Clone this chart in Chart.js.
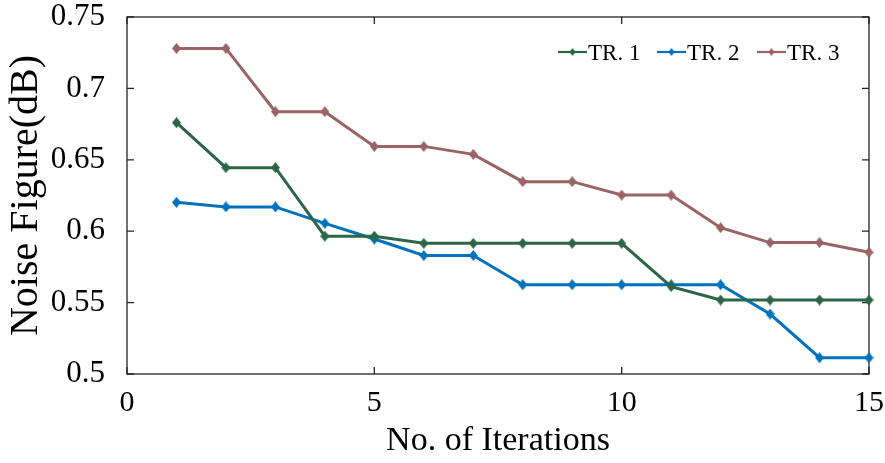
<!DOCTYPE html>
<html><head><meta charset="utf-8">
<script src="https://cdn.jsdelivr.net/npm/chart.js@4.4.0/dist/chart.umd.min.js"></script>
<style>html,body{margin:0;padding:0;background:#fff;}#wrap{width:885px;height:463px;}</style>
</head><body><div id="wrap"><canvas id="c" width="885" height="463"></canvas></div>
<script>
// ---- data ----
const iterations = [1,2,3,4,5,6,7,8,9,10,11,12,13,14,15];
const tr1 = [0.676,0.6445,0.6445,0.5965,0.5965,0.5915,0.5915,0.5915,0.5915,0.5915,0.5612,0.5518,0.5518,0.5518,0.5518];
const tr2 = [0.6202,0.617,0.617,0.6055,0.5945,0.583,0.583,0.5625,0.5625,0.5625,0.5625,0.5625,0.542,0.5114,0.5114];
const tr3 = [0.728,0.728,0.6837,0.6837,0.6594,0.6594,0.6538,0.6347,0.6347,0.6253,0.6253,0.6025,0.592,0.592,0.5852];
const seriesNames = ['TR. 1','TR. 2','TR. 3'];
const seriesColors = ['#2C6646','#0072BD','#9A6464'];
const xTicks = [0,5,10,15];
const yTicks = [0.5,0.55,0.6,0.65,0.7,0.75];
const xTitle = 'No. of Iterations';
const yTitle = 'Noise Figure(dB)';

const FONT = '"Liberation Serif","Times New Roman",Times,serif';

function diamond(color, w, h) {
  const c = document.createElement('canvas');
  c.width = w; c.height = h;
  const g = c.getContext('2d');
  g.fillStyle = color;
  g.beginPath();
  g.moveTo(w/2, 0); g.lineTo(w, h/2); g.lineTo(w/2, h); g.lineTo(0, h/2); g.closePath();
  g.fill();
  return c;
}

const allSeries = [tr1, tr2, tr3];
const datasets = allSeries.map((vals, i) => ({
  label: seriesNames[i],
  data: iterations.map((x, k) => ({x: x, y: vals[k]})),
  borderColor: seriesColors[i],
  backgroundColor: seriesColors[i],
  borderWidth: 3,
  pointStyle: diamond(seriesColors[i], 9, 11),
  pointRadius: 5,
  tension: 0,
  clip: false
}));

const framePlugin = {
  id: 'frame',
  beforeDatasetsDraw(chart) {
    const {ctx, chartArea: a, scales} = chart;
    ctx.save();
    ctx.strokeStyle = '#262626';
    ctx.lineWidth = 1.3;
    ctx.strokeRect(a.left, a.top, a.right - a.left, a.bottom - a.top);
    const tl = 7;
    ctx.beginPath();
    xTicks.forEach(v => {
      const px = scales.x.getPixelForValue(v);
      ctx.moveTo(px, a.bottom); ctx.lineTo(px, a.bottom - tl);
      ctx.moveTo(px, a.top); ctx.lineTo(px, a.top + tl);
    });
    yTicks.forEach(v => {
      const py = scales.y.getPixelForValue(v);
      ctx.moveTo(a.left, py); ctx.lineTo(a.left + tl, py);
      ctx.moveTo(a.right, py); ctx.lineTo(a.right - tl, py);
    });
    ctx.stroke();
    ctx.restore();
  }
};

const legendPlugin = {
  id: 'customLegend',
  afterDraw(chart) {
    const {ctx} = chart;
    const starts = [558, 657, 757];
    const y = 52;
    ctx.save();
    chart.data.datasets.forEach((ds, i) => {
      const x0 = starts[i], x1 = x0 + 29;
      ctx.strokeStyle = ds.borderColor;
      ctx.lineWidth = 2.2;
      ctx.beginPath(); ctx.moveTo(x0, y); ctx.lineTo(x1, y); ctx.stroke();
      ctx.drawImage(diamond(ds.borderColor, 6, 8), (x0 + x1)/2 - 3, y - 4);
      ctx.fillStyle = '#000';
      ctx.font = '23px ' + FONT;
      ctx.textBaseline = 'alphabetic';
      ctx.textAlign = 'left';
      ctx.fillText(ds.label, x1 + 1, 59.5);
    });
    ctx.restore();
  }
};

new Chart(document.getElementById('c'), {
  type: 'line',
  data: { datasets },
  plugins: [framePlugin, legendPlugin],
  options: {
    responsive: false,
    devicePixelRatio: 1,
    animation: false,
    layout: { padding: {left: 0, right: 16, top: 17, bottom: 0} },
    plugins: { legend: {display: false}, tooltip: {enabled: false} },
    scales: {
      x: {
        type: 'linear', min: 0, max: 15,
        afterBuildTicks: s => { s.ticks = xTicks.map(v => ({value: v})); },
        afterFit: s => { s.height = 89; s.paddingLeft = 0; s.paddingRight = 0; },
        grid: {display: false, drawTicks: false},
        border: {display: false},
        ticks: {font: {family: FONT, size: 30}, color: '#000', padding: 11, maxRotation: 0, autoSkip: false},
        title: {display: true, text: xTitle, color: '#000', font: {family: FONT, size: 34}, padding: {top: 0, bottom: 2}}
      },
      y: {
        type: 'linear', min: 0.5, max: 0.75,
        afterBuildTicks: s => { s.ticks = yTicks.map(v => ({value: v})); },
        afterFit: s => { s.width = 127; s.paddingTop = 0; s.paddingBottom = 0; },
        grid: {display: false, drawTicks: false},
        border: {display: false},
        ticks: {font: {family: FONT, size: 31}, color: '#000', padding: 22, autoSkip: false,
                callback: v => String(v)},
        title: {display: true, text: yTitle, color: '#000', font: {family: FONT, size: 40}, padding: {top: 2, bottom: 0}}
      }
    }
  }
});
</script></body></html>
